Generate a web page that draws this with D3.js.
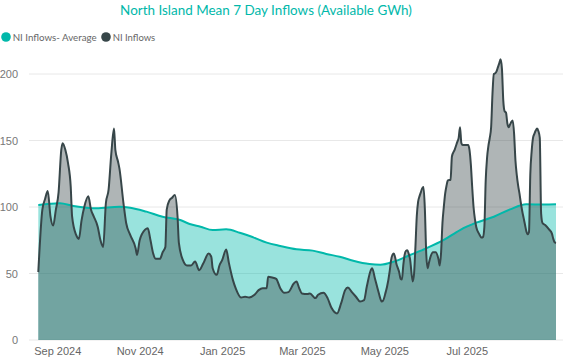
<!DOCTYPE html>
<html><head><meta charset="utf-8">
<script src="https://cdn.jsdelivr.net/npm/d3@7"></script>
<style>body{margin:0;background:#fff;}svg{display:block;font-family:"Segoe UI",Lato,"Open Sans",sans-serif;}</style>
</head><body>
<svg id="c" width="567" height="360"></svg>
<script>
const seriesNames = ["NI Inflows- Average", "NI Inflows"];
const seriesColors = ["#01B8AA", "#374649"];
const yTicks = [0, 50, 100, 150, 200];
const xTickDates = ["2024-09-01","2024-11-01","2025-01-01","2025-03-01","2025-05-01","2025-07-01"];

const inflowDates = ["2024-08-18","2024-08-21","2024-08-23","2024-08-25","2024-08-27","2024-08-29","2024-08-31","2024-09-02","2024-09-04","2024-09-05","2024-09-07","2024-09-09","2024-09-11","2024-09-12","2024-09-15","2024-09-17","2024-09-19","2024-09-21","2024-09-24","2024-09-26","2024-09-28","2024-10-01","2024-10-03","2024-10-05","2024-10-07","2024-10-09","2024-10-11","2024-10-13","2024-10-14","2024-10-16","2024-10-17","2024-10-20","2024-10-22","2024-10-25","2024-10-29","2024-10-30","2024-11-01","2024-11-05","2024-11-07","2024-11-09","2024-11-11","2024-11-13","2024-11-16","2024-11-18","2024-11-20","2024-11-21","2024-11-23","2024-11-25","2024-11-27","2024-11-29","2024-11-30","2024-12-03","2024-12-06","2024-12-09","2024-12-12","2024-12-15","2024-12-18","2024-12-22","2024-12-24","2024-12-25","2024-12-28","2024-12-30","2025-01-01","2025-01-04","2025-01-06","2025-01-09","2025-01-11","2025-01-15","2025-01-18","2025-01-21","2025-01-25","2025-01-28","2025-01-31","2025-02-03","2025-02-04","2025-02-07","2025-02-10","2025-02-13","2025-02-16","2025-02-19","2025-02-23","2025-02-25","2025-02-27","2025-03-01","2025-03-05","2025-03-07","2025-03-11","2025-03-13","2025-03-17","2025-03-20","2025-03-23","2025-03-27","2025-03-30","2025-04-02","2025-04-04","2025-04-07","2025-04-10","2025-04-13","2025-04-16","2025-04-18","2025-04-21","2025-04-22","2025-04-24","2025-04-27","2025-04-29","2025-04-30","2025-05-02","2025-05-03","2025-05-05","2025-05-06","2025-05-07","2025-05-08","2025-05-09","2025-05-10","2025-05-11","2025-05-12","2025-05-13","2025-05-14","2025-05-15","2025-05-16","2025-05-17","2025-05-18","2025-05-19","2025-05-20","2025-05-22","2025-05-23","2025-05-24","2025-05-25","2025-05-26","2025-05-27","2025-05-28","2025-05-29","2025-05-30","2025-05-31","2025-06-01","2025-06-02","2025-06-03","2025-06-04","2025-06-06","2025-06-08","2025-06-10","2025-06-11","2025-06-12","2025-06-13","2025-06-14","2025-06-15","2025-06-16","2025-06-17","2025-06-19","2025-06-20","2025-06-22","2025-06-24","2025-06-25","2025-06-26","2025-06-27","2025-06-28","2025-07-02","2025-07-03","2025-07-04","2025-07-05","2025-07-06","2025-07-07","2025-07-08","2025-07-10","2025-07-12","2025-07-13","2025-07-14","2025-07-15","2025-07-16","2025-07-17","2025-07-18","2025-07-19","2025-07-20","2025-07-21","2025-07-22","2025-07-23","2025-07-24","2025-07-25","2025-07-26","2025-07-27","2025-07-28","2025-07-29","2025-07-30","2025-07-31","2025-08-01","2025-08-02","2025-08-03","2025-08-04","2025-08-05","2025-08-06","2025-08-07","2025-08-08","2025-08-09","2025-08-10","2025-08-11","2025-08-12","2025-08-13","2025-08-14","2025-08-15","2025-08-16","2025-08-17","2025-08-18","2025-08-19","2025-08-20","2025-08-21","2025-08-22","2025-08-23","2025-08-24","2025-08-25","2025-08-26","2025-08-28","2025-08-31","2025-09-02","2025-09-03","2025-09-04","2025-09-05"];
const inflowValues = [51,98,106,112,93,86,98,111,143,148,143,133,115,93,79,76,90,100,108,98,93,85,75,70,103,113,140,159,143,134,129,103,88,79,69,64,75,83,84,75,65,61,61,66,70,98,105,107,109,93,73,60,56,56,59,52.5,57.5,65,62.5,54,49,56,60,68,58,45,39,32,32.5,32,34,37.5,39,39,47.5,47,46,39,35.5,36,42.5,44,39,35,34.5,35,31.5,34,35.5,31.5,24,20,27.5,37.5,39.5,36,32.5,29,30,40,52.5,54,46.5,35,29,29.5,36,40,52,60,64,65,62,57,54,51,46,45.5,56,64,67,67.5,65,61,44,50,70,93,104,108,111,114,115,98,65,54,58,62,66,66,61,56,66,88,100,110,116,120,120.5,138,143,149,152,160,148,146.6,146.6,143,132,115,100,91,85,80,77,77.5,85,120,137,146,152,160,185,200,200.5,202,205,208,211,204,180,172,171,163,160,162,164,165,155,135,124,116,110,103,97,92,87,82,79.5,81,125,142,152,155,157.5,159,157,152,95,88,86.5,83,80,76,73.5,73];

const avgDates = ["2024-08-18","2024-09-03","2024-09-13","2024-09-30","2024-10-17","2024-10-25","2024-11-06","2024-11-18","2024-12-01","2024-12-08","2024-12-16","2024-12-25","2025-01-04","2025-01-14","2025-01-24","2025-02-03","2025-02-13","2025-02-25","2025-03-09","2025-03-19","2025-03-29","2025-04-08","2025-04-20","2025-04-28","2025-05-08","2025-05-20","2025-06-01","2025-06-14","2025-06-26","2025-07-08","2025-07-21","2025-08-02","2025-08-14","2025-08-27","2025-09-05"];
const avgValues = [101.5,102.8,100.8,99,100.2,99.5,96.5,92.7,90.2,87.2,85.2,82.7,83.2,80.7,77.2,73.2,70.7,68.2,67.2,64.7,62.6,59.6,57.1,56.6,58.9,63.9,68.9,75.2,82.7,88.2,92.7,98.2,102,101.8,102];

const parse = d3.timeParse("%Y-%m-%d");
const inflow = inflowDates.map((d, i) => ({date: parse(d), value: inflowValues[i]}));
const avg = avgDates.map((d, i) => ({date: parse(d), value: avgValues[i]}));

const svg = d3.select("#c");
const x = d3.scaleTime().domain([parse("2024-08-18"), parse("2025-09-05")]).range([38.3, 556]);
const y = d3.scaleLinear().domain([0, 200]).range([340, 74]);

// fit a text element's font size so that it spans a target width
function fitWidth(sel, target, maxSize) {
  sel.each(function() {
    const w = this.getComputedTextLength();
    const fs = parseFloat(this.getAttribute("font-size"));
    this.setAttribute("font-size", Math.min(maxSize, fs * target / w));
  });
}

// title
const title = svg.append("text").attr("x", 266).attr("y", 15).attr("text-anchor", "middle")
  .attr("fill", "#01B8AA").attr("font-size", 15).text("North Island Mean 7 Day Inflows (Available GWh)");
fitWidth(title, 292, 16);

// legend
const leg = svg.append("g");
const legX = [6, 106];
const legW = [84, 42.6];
seriesNames.forEach((n, i) => {
  leg.append("circle").attr("cx", legX[i]).attr("cy", 37).attr("r", 4.8).attr("fill", seriesColors[i]);
  const t = leg.append("text").attr("x", legX[i] + 6.7).attr("y", 41).attr("font-size", 11).attr("fill", "#666").text(n);
  fitWidth(t, legW[i], 12);
});

// gridlines
svg.append("g").selectAll("line").data(yTicks).join("line")
  .attr("x1", 29).attr("x2", 563).attr("y1", d => y(d)).attr("y2", d => y(d))
  .attr("stroke", "#e8e8e8").attr("stroke-width", 1);

// y axis
const ya = svg.append("g").attr("transform", "translate(18,0)")
  .call(d3.axisLeft(y).tickValues(yTicks).tickSize(0).tickPadding(0));
ya.select(".domain").remove();
ya.selectAll("text").attr("font-size", 11).attr("fill", "#777").attr("font-family", null);

// x axis
const xa = svg.append("g").attr("transform", "translate(0,340)")
  .call(d3.axisBottom(x).tickValues(xTickDates.map(parse)).tickFormat(d3.timeFormat("%b %Y")).tickSize(0).tickPadding(7));
xa.select(".domain").remove();
xa.selectAll("text").attr("font-size", 11).attr("fill", "#666").attr("font-family", null);

// areas
const area = d3.area().x(d => x(d.date)).y0(y(0)).y1(d => y(d.value)).curve(d3.curveMonotoneX);
const line = d3.line().x(d => x(d.date)).y(d => y(d.value)).curve(d3.curveMonotoneX);
svg.append("path").datum(avg).attr("d", area).attr("fill", seriesColors[0]).attr("fill-opacity", 0.4);
svg.append("path").datum(inflow).attr("d", area).attr("fill", seriesColors[1]).attr("fill-opacity", 0.4);
svg.append("path").datum(avg).attr("d", line).attr("fill", "none").attr("stroke", seriesColors[0]).attr("stroke-width", 2);
svg.append("path").datum(inflow).attr("d", line).attr("fill", "none").attr("stroke", seriesColors[1]).attr("stroke-width", 2).attr("stroke-linejoin", "round");
</script>
</body></html>
